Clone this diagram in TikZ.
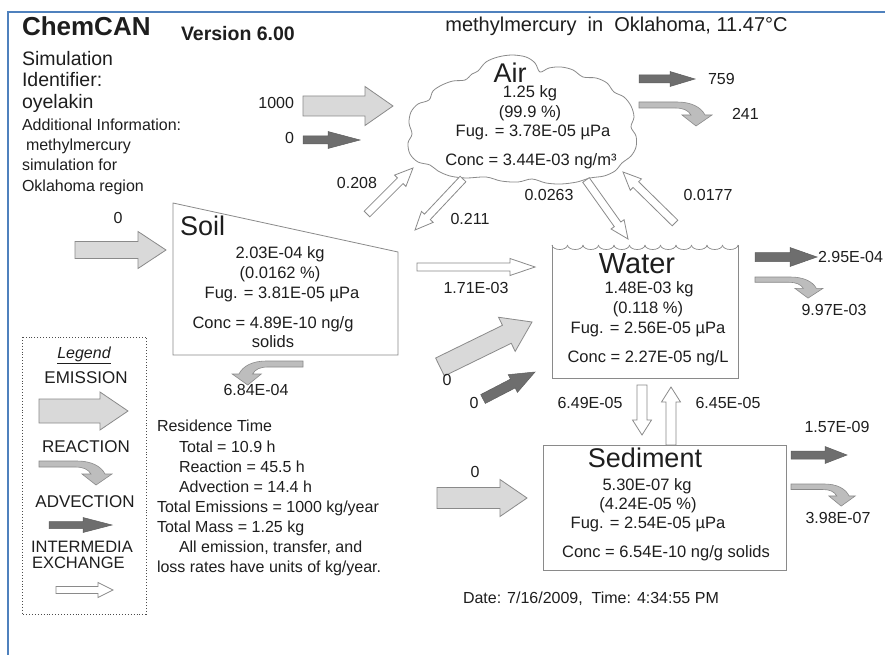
\documentclass[tikz,border=0pt]{standalone}
\usepackage{fontspec}
\setmainfont{Liberation Sans}
\usetikzlibrary{calc}
\definecolor{frameblue}{HTML}{4F81BD}
\definecolor{emis}{HTML}{D9D9D9}
\definecolor{reac}{HTML}{BDBDBD}
\definecolor{advc}{HTML}{6E6E6E}
\definecolor{edge}{HTML}{8A8A8A}
\definecolor{txt}{HTML}{1E1E1E}
\newcommand\blockarr[6]{%
  \coordinate (baS) at (#2);
  \coordinate (baE) at (#3);
  \coordinate (baH) at ($(baE)!#6!(baS)$);
  \path[#1] ($(baS)!#4!90:(baE)$) -- ($(baH)!#4!90:(baE)$) -- ($(baH)!#5!90:(baE)$) -- (baE)
    -- ($(baH)!#5!-90:(baE)$) -- ($(baH)!#4!-90:(baE)$) -- ($(baS)!#4!-90:(baE)$) -- cycle;}
\tikzset{
  emission/.style={fill=emis, draw=edge, line width=0.8pt, line join=miter},
  reaction/.style={fill=reac, draw=edge, line width=0.6pt},
  advection/.style={fill=advc, draw=advc!85!black, line width=0.5pt},
  exchange/.style={fill=white, draw=edge, line width=0.8pt},
  react/.pic={\path[reaction] (0,0) -- (38,0) .. controls (52,0) and (62,5) .. (66,13) -- (73,13) -- (57,24) -- (43,13) -- (52,13) .. controls (49,8) and (44,6) .. (36,6) -- (0,6) -- cycle;},
  boxline/.style={draw=edge, line width=0.8pt},
  f16/.style={font=\fontsize{16}{19}\selectfont},
  f165/.style={font=\fontsize{16.5}{19}\selectfont},
  f17/.style={font=\fontsize{17}{19}\selectfont},
  f195/.style={font=\fontsize{19.5}{22}\selectfont},
  f20/.style={font=\fontsize{20}{22}\selectfont},
  fbig/.style={font=\fontsize{27}{30}\selectfont},
}
\begin{document}
\begin{tikzpicture}[x=1pt,y=-1pt, every node/.style={inner sep=0pt, outer sep=0pt, text=txt}]
\useasboundingbox (0,0) rectangle (885,655);
\fill[white] (0,0) rectangle (885,655);
% frame
\draw[frameblue, line width=2.2pt] (8,655) -- (8,12) -- (885,12);

% header
\node[anchor=base west, font=\fontsize{26}{30}\selectfont\bfseries] (chem) at (22,36) {ChemCAN};
\node[anchor=base west, font=\fontsize{19.5}{22}\selectfont\bfseries] (ver) at (181,41) {Version 6.00};
\node[anchor=base west, f195] (sim1) at (22,66) {Simulation};
\node[anchor=base west, f195] (sim2) at (22,87) {Identifier:};
\node[anchor=base west, f195] (sim3) at (22,109) {oyelakin};
\node[anchor=base west, f16] (add1) at (22,131) {Additional Information:};
\node[anchor=base west, f16] (add2) at (26,151) {methylmercury};
\node[anchor=base west, f16] (add3) at (22,171) {simulation for};
\node[anchor=base west, f16] (add4) at (22,191) {Oklahoma region};
\node[anchor=base, f20] (title) at (616.5,32) {methylmercury\ \ in\ \ Oklahoma, 11.47°C};

% Air (cloud)
\draw[edge, line width=0.8pt, fill=white] plot[smooth cycle, tension=0.55] coordinates {
  (478,71) (486,62) (498,57) (512,55) (526,57) (535,63) (540,72) (549,68) (561,67) (573,70)
  (583,77) (596,78) (607,83) (614,92) (624,97) (631,106) (634,117) (631,127) (636,136)
  (636,147) (631,156) (622,163) (615,171) (604,176) (590,178) (577,182) (561,184) (546,183)
  (532,179) (518,182) (501,181) (486,177) (466,178) (450,176) (438,171) (430,165) (418,162)
  (410,154) (408,143) (412,134) (409,123) (411,112) (418,104) (429,100) (433,91) (442,85)
  (453,81) (465,80) (472,74)};
\coordinate (air) at (521,119);
\node[anchor=base, fbig] (airT) at (510,83) {Air};
\node[anchor=base, f165] (air1) at (530,98) {1.25 kg};
\node[anchor=base, f165] (air2) at (530,118) {(99.9 \%)};
\node[anchor=base, f165] (air3) at (533,137) {Fug. = 3.78E-05 µPa};
\node[anchor=base, f165] (air4) at (531,166) {Conc = 3.44E-03 ng/m³};

\blockarr{emission}{303,106}{393,106}{10pt}{19.5pt}{28pt}
\node[anchor=base east, f16] (eA) at (294,109) {1000};
\blockarr{advection}{303,140}{360,140}{4pt}{8.5pt}{32pt}
\node[anchor=base east, f16] (aA) at (294,144) {0};
\blockarr{advection}{639,79}{695,79}{4pt}{7.5pt}{25pt}
\node[anchor=base west, f16] (aAo) at (708,85) {759};
\pic at (639,102) {react};
\node[anchor=base west, f16] (rA) at (732,120) {241};

% Soil
\path[boxline, fill=white] (173,203) -- (398,252) -- (398,355) -- (173,355) -- cycle;
\node[anchor=base west, fbig] (soilT) at (180,235) {Soil};
\node[anchor=base, f165] (soil1) at (280,258) {2.03E-04 kg};
\node[anchor=base, f165] (soil2) at (280,278) {(0.0162 \%)};
\node[anchor=base, f165] (soil3) at (282,298) {Fug. = 3.81E-05 µPa};
\node[anchor=base, f165] (soil4) at (273,328) {Conc = 4.89E-10 ng/g};
\node[anchor=base, f165] (soil5) at (273,347) {solids};
\blockarr{emission}{75,250}{166,250}{8.5pt}{18.5pt}{28pt}
\node[anchor=base, f16] (eS) at (118,223) {0};
\pic[xscale=-0.97] at (303,361) {react};
\node[anchor=base, f16] (rS) at (256,395) {6.84E-04};

% intermedia air-soil-water
\blockarr{exchange}{367,214}{413,168}{4pt}{8pt}{18pt}
\node[anchor=base, f16] (x1) at (357,188) {0.208};
\blockarr{exchange}{463,179}{415,230}{4pt}{8pt}{18pt}
\node[anchor=base, f16] (x2) at (470,224) {0.211};
\blockarr{exchange}{586,180}{628,239}{4pt}{8pt}{18pt}
\node[anchor=base, f16] (x3) at (549,200) {0.0263};
\blockarr{exchange}{675,223}{623,172}{4pt}{8pt}{18pt}
\node[anchor=base, f16] (x4) at (708,200) {0.0177};
\blockarr{exchange}{417,267}{535,267}{4pt}{8.5pt}{25pt}
\node[anchor=base, f16] (x5) at (476,293) {1.71E-03};

% Water
\draw[boxline] (552,245) -- (552,378) -- (738,378) -- (738,245);
\foreach \i in {0,...,11}
  \draw[edge, line width=0.7pt] ({552+15.5*\i},245) arc[start angle=180, end angle=0, x radius=7.75, y radius=4.5];
\node[anchor=base, font=\fontsize{29}{32}\selectfont] (watT) at (637,273) {Water};
\node[anchor=base, f165] (wat1) at (649,293) {1.48E-03 kg};
\node[anchor=base, f165] (wat2) at (648,313) {(0.118 \%)};
\node[anchor=base, f165] (wat3) at (648,333) {Fug. = 2.56E-05 µPa};
\node[anchor=base, f165] (wat4) at (648,362) {Conc = 2.27E-05 ng/L};
\blockarr{emission}{440,367}{532,322}{10pt}{19pt}{28pt}
\node[anchor=base, f16] (eW) at (447,385) {0};
\blockarr{advection}{483,399}{535,372}{5pt}{10pt}{25pt}
\node[anchor=base, f16] (aW) at (474,408) {0};
\blockarr{advection}{755,257}{817,257}{4.5pt}{9.5pt}{27pt}
\node[anchor=base west, f16] (aWo) at (818,262) {2.95E-04};
\pic[xscale=0.93, yscale=0.88] at (755,277) {react};
\node[anchor=base, f16] (rW) at (834,315) {9.97E-03};

% water-sediment
\blockarr{exchange}{642,385}{642,435}{5pt}{9.5pt}{15pt}
\blockarr{exchange}{671,445}{671,387}{5pt}{9.5pt}{15pt}
\node[anchor=base, f16] (x6) at (590,408) {6.49E-05};
\node[anchor=base, f16] (x7) at (728,408) {6.45E-05};

% Sediment
\draw[boxline] (543,445) rectangle (786,570);
\node[anchor=base, fbig] (sedT) at (645,467) {Sediment};
\node[anchor=base, f165] (sed1) at (647,490) {5.30E-07 kg};
\node[anchor=base, f165] (sed2) at (648,509) {(4.24E-05 \%)};
\node[anchor=base, f165] (sed3) at (648,528) {Fug. = 2.54E-05 µPa};
\node[anchor=base, f165] (sed4) at (666,557) {Conc = 6.54E-10 ng/g solids};
\blockarr{emission}{437,498}{527,498}{10.5pt}{18.5pt}{27pt}
\node[anchor=base, f16] (eD) at (475,477) {0};
\blockarr{advection}{791,455}{847,455}{4pt}{8.5pt}{22pt}
\node[anchor=base, f16] (aD) at (837,432) {1.57E-09};
\pic[xscale=0.88, yscale=0.92] at (791,484) {react};
\node[anchor=base, f16] (rD) at (838,523) {3.98E-07};

\node[anchor=base west, f16] (date) at (463,603) {Date: 7/16/2009,\ \ Time: 4:34:55 PM};

% Legend
\draw[draw=black!70, line width=0.9pt, dotted] (22,337) rectangle (146,614);
\node[anchor=base, f16] (lgT) at (84,358) {\underline{\itshape Legend}};
\node[anchor=base, f17] (lg1) at (86,383) {EMISSION};
\blockarr{emission}{39,411}{128,411}{12pt}{19pt}{28pt}
\node[anchor=base, f17] (lg2) at (86,452) {REACTION};
\pic at (39,461) {react};
\node[anchor=base, f17] (lg3) at (85,507) {ADVECTION};
\blockarr{advection}{49,525}{112,525}{3.5pt}{7.5pt}{29pt}
\node[anchor=base west, font=\fontsize{16.5}{17}\selectfont] (lg4) at (31,552) {INTERMEDIA};
\node[anchor=base west, font=\fontsize{16.5}{17}\selectfont] (lg5) at (32,568) {EXCHANGE};
\blockarr{exchange}{56,590}{113,590}{3.5pt}{7.5pt}{15pt}

% Residence
\node[anchor=base west, f16] (r1) at (157,431) {Residence Time};
\node[anchor=base west, f16] (r2) at (179,452) {Total = 10.9 h};
\node[anchor=base west, f16] (r3) at (179,472) {Reaction = 45.5 h};
\node[anchor=base west, f16] (r4) at (179,492) {Advection = 14.4 h};
\node[anchor=base west, f16] (r5) at (157,512) {Total Emissions = 1000 kg/year};
\node[anchor=base west, f16] (r6) at (157,532) {Total Mass = 1.25 kg};
\node[anchor=base west, f16] (r7) at (179,552) {All emission, transfer, and};
\node[anchor=base west, f16] (r8) at (157,572) {loss rates have units of kg/year.};
\end{tikzpicture}
\end{document}
